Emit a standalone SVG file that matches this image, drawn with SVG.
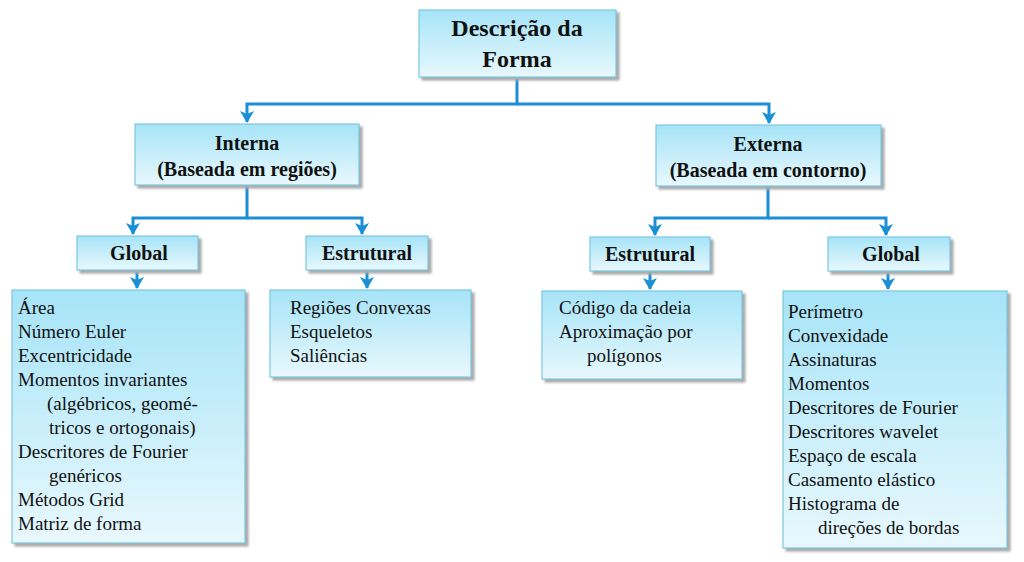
<svg xmlns="http://www.w3.org/2000/svg" width="1024" height="562" viewBox="0 0 1024 562">
<defs>
<linearGradient id="g" x1="0" y1="0" x2="0" y2="1"><stop offset="0" stop-color="#a6e4f7"/><stop offset="1" stop-color="#e8f8fd"/></linearGradient>
<marker id="a" markerWidth="10" markerHeight="10" refX="5" refY="8" orient="auto" markerUnits="userSpaceOnUse" viewBox="0 0 10 10"><path d="M0,0 L5,3 L10,0 L5,10 Z" fill="#1a8fd6" transform="rotate(-90 5 5)"/></marker>
<marker id="m" markerWidth="14" markerHeight="14" refX="7" refY="13" orient="0" markerUnits="userSpaceOnUse" viewBox="0 0 14 14"><path d="M0,2 L7,5 L14,2 L7,14 Z" fill="#1a8fd6"/></marker>
</defs>
<style>
.b{fill:url(#g);stroke:#7cc6e2;stroke-width:1.2;filter:drop-shadow(3px 3px 1px #aaa)}
.h{font-family:"Liberation Serif",serif;font-weight:bold;font-size:20px;fill:#111;text-anchor:middle}
.t{font-family:"Liberation Serif",serif;font-size:19px;fill:#111}
.c{fill:none;stroke:#1a8fd6;stroke-width:3}
</style>
<g id="connectors">
<path class="c" d="M517,77 V104 H247 V122" marker-end="url(#m)"/>
<path class="c" d="M517,104 H769 V123" marker-end="url(#m)"/>
<path class="c" d="M247,185 V218 H133 V234" marker-end="url(#m)"/>
<path class="c" d="M247,218 H362 V234" marker-end="url(#m)"/>
<path class="c" d="M768,186 V218 H655 V235" marker-end="url(#m)"/>
<path class="c" d="M768,218 H886 V235" marker-end="url(#m)"/>
<path class="c" d="M137,270 V288" marker-end="url(#m)"/>
<path class="c" d="M367,270 V288" marker-end="url(#m)"/>
<path class="c" d="M650,271 V289" marker-end="url(#m)"/>
<path class="c" d="M888,271 V289" marker-end="url(#m)"/>
</g>
<g id="root"><rect class="b" x="419" y="10" width="197" height="67"/><text class="h" style="font-size:24px" x="517" y="36">Descrição da</text><text class="h" style="font-size:24px" x="517" y="67">Forma</text></g>
<g id="interna"><rect class="b" x="135" y="124" width="224" height="61"/><text class="h" x="247" y="150">Interna</text><text class="h" x="247" y="176">(Baseada em regiões)</text></g>
<g id="externa"><rect class="b" x="656" y="125" width="225" height="61"/><text class="h" x="768" y="151">Externa</text><text class="h" x="768" y="177">(Baseada em contorno)</text></g>
<g id="globalL"><rect class="b" x="77" y="236" width="121" height="34"/><text class="h" x="139" y="260">Global</text></g>
<g id="estruturalL"><rect class="b" x="306" y="236" width="122" height="34"/><text class="h" x="367" y="260">Estrutural</text></g>
<g id="estruturalR"><rect class="b" x="590" y="237" width="120" height="34"/><text class="h" x="650" y="261">Estrutural</text></g>
<g id="globalR"><rect class="b" x="828" y="237" width="122" height="34"/><text class="h" x="891" y="261">Global</text></g>
<g id="listGL"><rect class="b" x="12" y="290" width="233" height="253"/>
<text class="t" x="18" y="314">Área</text><text class="t" x="18" y="338">Número Euler</text><text class="t" x="18" y="362">Excentricidade</text><text class="t" x="18" y="386">Momentos invariantes</text><text class="t" x="47" y="410">(algébricos, geomé-</text><text class="t" x="49" y="434">tricos e ortogonais)</text><text class="t" x="18" y="458">Descritores de Fourier</text><text class="t" x="49" y="482">genéricos</text><text class="t" x="18" y="506">Métodos Grid</text><text class="t" x="18" y="530">Matriz de forma</text></g>
<g id="listEL"><rect class="b" x="270" y="290" width="201" height="87"/>
<text class="t" x="290" y="314">Regiões Convexas</text><text class="t" x="290" y="338">Esqueletos</text><text class="t" x="290" y="362">Saliências</text></g>
<g id="listER"><rect class="b" x="542" y="291" width="200" height="88"/>
<text class="t" x="559" y="314">Código da cadeia</text><text class="t" x="559" y="338">Aproximação por</text><text class="t" x="587" y="362">polígonos</text></g>
<g id="listGR"><rect class="b" x="783" y="291" width="224" height="257"/>
<text class="t" x="788" y="318">Perímetro</text><text class="t" x="788" y="342">Convexidade</text><text class="t" x="788" y="366">Assinaturas</text><text class="t" x="788" y="390">Momentos</text><text class="t" x="788" y="414">Descritores de Fourier</text><text class="t" x="788" y="438">Descritores wavelet</text><text class="t" x="788" y="462">Espaço de escala</text><text class="t" x="788" y="486">Casamento elástico</text><text class="t" x="788" y="510">Histograma de</text><text class="t" x="818" y="534">direções de bordas</text></g>
</svg>
